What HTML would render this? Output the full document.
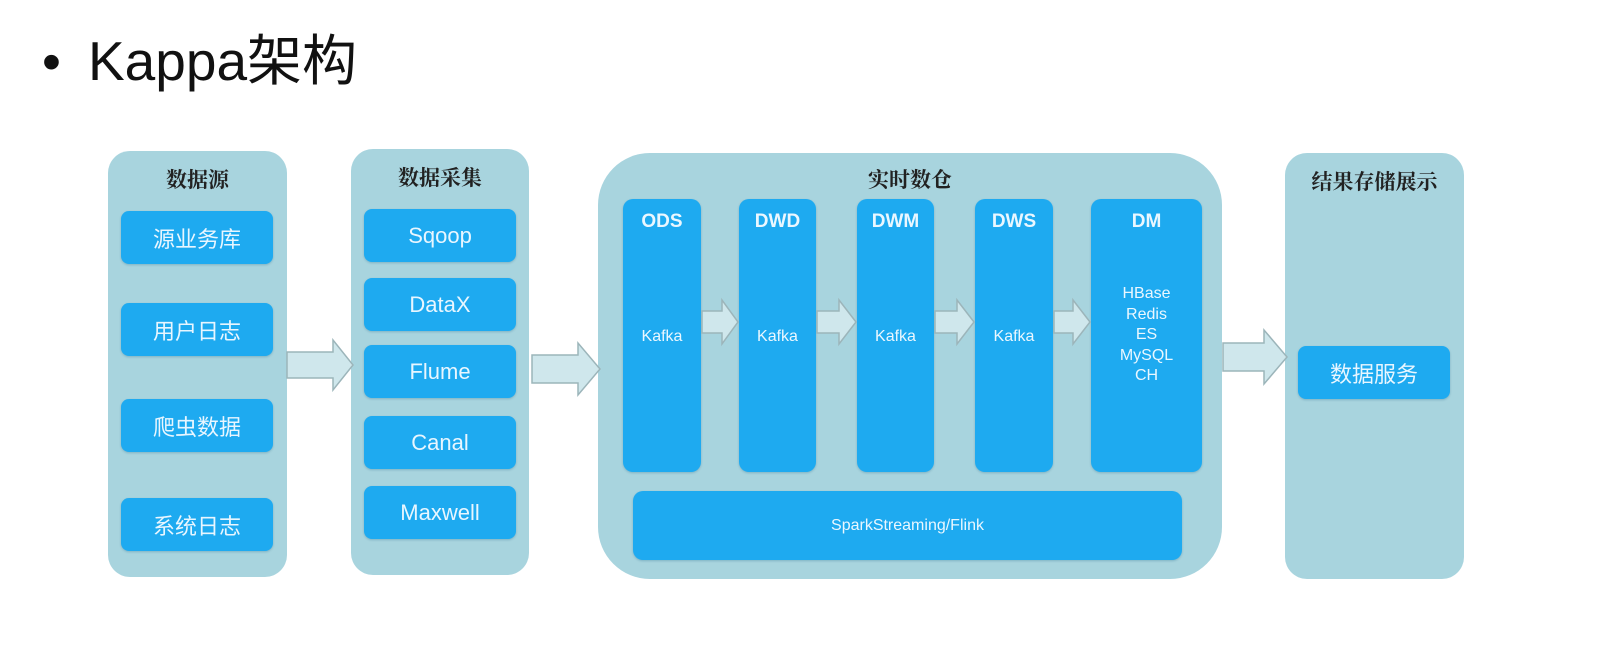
<!DOCTYPE html>
<html><head><meta charset="utf-8"><style>
body{margin:0;width:1598px;height:652px;background:#fff;position:relative;overflow:hidden;font-family:"Liberation Sans","Noto Sans CJK SC",sans-serif}
.a{position:absolute;box-sizing:border-box}
.p{background:#a8d4de;border-radius:22px}
.b{background:#1eaaf0;border-radius:8px;color:#e8f6ff;display:flex;align-items:center;justify-content:center;font-size:22px;box-shadow:0 1px 2px rgba(0,80,120,.25)}
.t{font-family:"Noto Serif CJK SC","Noto Sans CJK SC",serif;font-weight:bold;font-size:21px;color:#222;text-align:center}
.c{background:#1eaaf0;border-radius:10px;color:#eaf7ff;text-align:center;box-shadow:0 1px 2px rgba(0,80,120,.25)}
.c h{display:block;font-weight:bold;font-size:19px;margin-top:12px}
.k{position:absolute;left:0;right:0;font-size:16px}
</style></head><body>
<div class="a" style="left:42px;top:22px;font-size:54px;color:#111;line-height:80px">•</div>
<div class="a" style="left:88px;top:24px;font-size:55px;color:#111;line-height:74px;font-family:'Liberation Sans','Noto Sans CJK SC',sans-serif">Kappa架构</div>

<div class="a p" style="left:108px;top:151px;width:179px;height:426px"></div>
<div class="a t" style="left:108px;top:164px;width:179px">数据源</div>
<div class="a b" style="left:121px;top:211px;width:152px;height:53px">源业务库</div>
<div class="a b" style="left:121px;top:303px;width:152px;height:53px">用户日志</div>
<div class="a b" style="left:121px;top:399px;width:152px;height:53px">爬虫数据</div>
<div class="a b" style="left:121px;top:498px;width:152px;height:53px">系统日志</div>

<div class="a p" style="left:351px;top:149px;width:178px;height:426px"></div>
<div class="a t" style="left:351px;top:162px;width:178px">数据采集</div>
<div class="a b" style="left:364px;top:209px;width:152px;height:53px">Sqoop</div>
<div class="a b" style="left:364px;top:278px;width:152px;height:53px">DataX</div>
<div class="a b" style="left:364px;top:345px;width:152px;height:53px">Flume</div>
<div class="a b" style="left:364px;top:416px;width:152px;height:53px">Canal</div>
<div class="a b" style="left:364px;top:486px;width:152px;height:53px">Maxwell</div>

<div class="a p" style="left:598px;top:153px;width:624px;height:426px;border-radius:52px"></div>
<div class="a t" style="left:598px;top:164px;width:624px">实时数仓</div>
<div class="a c" style="left:623px;top:199px;width:78px;height:273px"><h>ODS</h><span class="k" style="top:129px">Kafka</span></div>
<div class="a c" style="left:739px;top:199px;width:77px;height:273px"><h>DWD</h><span class="k" style="top:129px">Kafka</span></div>
<div class="a c" style="left:857px;top:199px;width:77px;height:273px"><h>DWM</h><span class="k" style="top:129px">Kafka</span></div>
<div class="a c" style="left:975px;top:199px;width:78px;height:273px"><h>DWS</h><span class="k" style="top:129px">Kafka</span></div>
<div class="a c" style="left:1091px;top:199px;width:111px;height:273px"><h>DM</h><span class="k" style="top:85px;line-height:20.5px">HBase<br>Redis<br>ES<br>MySQL<br>CH</span></div>
<div class="a c" style="left:633px;top:491px;width:549px;height:69px;line-height:69px;font-size:16px">SparkStreaming/Flink</div>

<div class="a p" style="left:1285px;top:153px;width:179px;height:426px"></div>
<div class="a t" style="left:1285px;top:166px;width:179px">结果存储展示</div>
<div class="a b" style="left:1298px;top:346px;width:152px;height:53px">数据服务</div>

<svg class="a" style="left:0;top:0" width="1598" height="652">
<g fill="#cfe7ec" stroke="#9cb5ba" stroke-width="1.5">
<polygon points="287,352 333,352 333,340 353,365 333,390 333,378 287,378"/>
<polygon points="532,355 578,355 578,343 600,369 578,395 578,383 532,383"/>
<polygon points="702,311 722,311 722,300 738,322 722,344 722,333 702,333"/>
<polygon points="817,311 839,311 839,300 856,322 839,344 839,333 817,333"/>
<polygon points="935,311 957,311 957,300 974,322 957,344 957,333 935,333"/>
<polygon points="1054,311 1073,311 1073,300 1090,322 1073,344 1073,333 1054,333"/>
<polygon points="1223,343 1264,343 1264,330 1287,357 1264,384 1264,371 1223,371"/>
</g>
</svg>
</body></html>
